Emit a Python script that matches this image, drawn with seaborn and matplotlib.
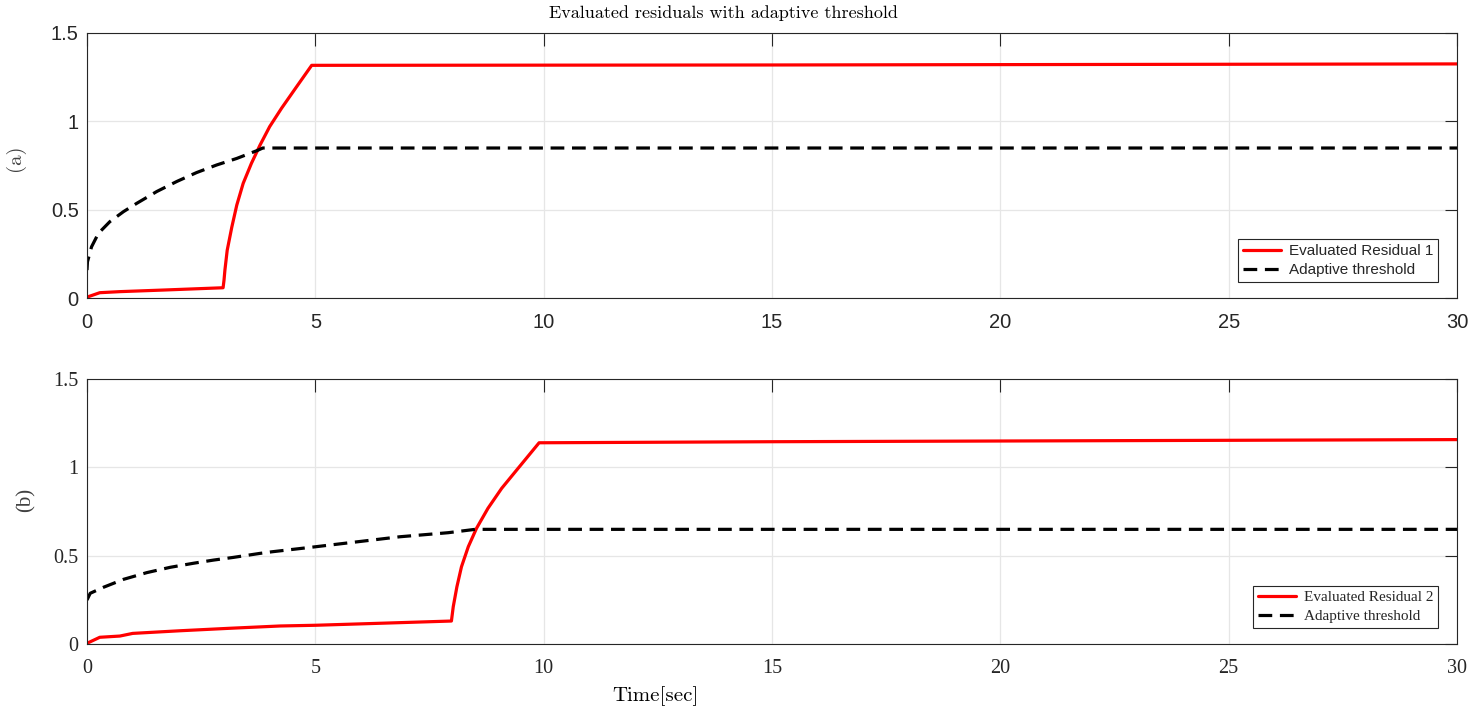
import numpy as np
import pandas as pd
import matplotlib
matplotlib.use("Agg")
import matplotlib.pyplot as plt
import seaborn as sns

# ---------------- data ----------------
t1_res = [0, 0.28, 0.72, 1.67, 2.98, 3.0, 3.02, 3.07, 3.17, 3.28, 3.42, 3.6, 3.79,
          4.0, 4.26, 4.59, 4.92, 10, 15, 20, 25, 30]
res1 = [0.005, 0.03, 0.036, 0.045, 0.058, 0.10, 0.158, 0.27, 0.40, 0.526, 0.649,
        0.762, 0.866, 0.97, 1.074, 1.196, 1.317, 1.318, 1.319, 1.321, 1.323, 1.325]

t1_thr = [0, 0.01, 0.1, 0.25, 0.5, 0.8, 1.09, 1.53, 1.97, 2.4, 2.84, 3.28, 3.72,
          3.85, 30]
thr1 = [0.158, 0.205, 0.29, 0.366, 0.432, 0.489, 0.536, 0.603, 0.66, 0.71, 0.753,
        0.79, 0.834, 0.849, 0.849]

t2_res = [0, 0.28, 0.72, 1.0, 2.04, 3.13, 4.23, 5.0, 6.5, 7.98, 8.02, 8.1, 8.2, 8.35,
          8.53, 8.78, 9.08, 9.41, 9.9, 15, 20, 25, 30]
res2 = [0.004, 0.038, 0.045, 0.06, 0.075, 0.089, 0.102, 0.106, 0.118, 0.13, 0.211,
        0.324, 0.437, 0.551, 0.655, 0.768, 0.881, 0.985, 1.139, 1.145, 1.149, 1.153,
        1.157]

t2_thr = [0, 0.07, 0.36, 0.8, 1.31, 1.82, 2.33, 2.77, 3.2, 3.79, 4.05, 4.99, 6.85,
          7.91, 8.5, 30]
thr2 = [0.249, 0.287, 0.321, 0.366, 0.404, 0.434, 0.457, 0.475, 0.49, 0.513, 0.522,
        0.55, 0.607, 0.63, 0.649, 0.649]

x_ticks = [0, 5, 10, 15, 20, 25, 30]
y_ticks = [0, 0.5, 1, 1.5]
y_tick_labels = ["0", "0.5", "1", "1.5"]

title_text = "Evaluated residuals with adaptive threshold"
xlabel_text = "Time[sec]"
panel_labels = ["(a)", "(b)"]
legend_res = ["Evaluated Residual 1", "Evaluated Residual 2"]
legend_thr = "Adaptive threshold"

# ---------------- style ----------------
sns.set_style("white")
plt.rcParams["axes.unicode_minus"] = False

W, H = 1471, 709
fig = plt.figure(figsize=(W / 100, H / 100), dpi=100)

left = 87 / W
width = (1457 - 87) / W
ax_h = (298 - 33) / H
ax1 = fig.add_axes([left, 1 - 298 / H, width, ax_h])
ax2 = fig.add_axes([left, 1 - 644 / H, width, ax_h])

edge = "#262626"
panels = [
    (ax1, t1_res, res1, t1_thr, thr1, legend_res[0], "Liberation Sans", 14.5, 11),
    (ax2, t2_res, res2, t2_thr, thr2, legend_res[1], "Liberation Serif", 14.5, 11),
]

for ax, tr, rr, tt, th, lab, fam, tfs, lfs in panels:
    df_r = pd.DataFrame({"t": tr, "v": rr})
    df_t = pd.DataFrame({"t": tt, "v": th})
    sns.lineplot(data=df_r, x="t", y="v", ax=ax, color="#ff0000", lw=2.3,
                 label=lab, sort=False, estimator=None)
    sns.lineplot(data=df_t, x="t", y="v", ax=ax, color="black", lw=2.3,
                 label=legend_thr, sort=False, estimator=None)
    ax.lines[-1].set_dashes([4.3, 2.4])
    ax.set_xlim(0, 30)
    ax.set_ylim(0, 1.5)
    ax.set_xticks(x_ticks)
    ax.set_yticks(y_ticks)
    ax.set_xticklabels([str(v) for v in x_ticks])
    ax.set_yticklabels(y_tick_labels)
    ax.set_xlabel("")
    ax.set_ylabel("")
    ax.grid(True, color="#e6e6e6", lw=0.9)
    ax.set_axisbelow(True)
    for s in ax.spines.values():
        s.set_color(edge)
        s.set_linewidth(0.8)
        s.set_visible(True)
    ax.tick_params(axis="both", direction="in", top=True, right=True,
                   length=9, width=0.8, color=edge, labelcolor=edge,
                   labelsize=tfs)
    ax.tick_params(axis="x", pad=11)
    ax.tick_params(axis="y", pad=6)
    for lbl in ax.get_xticklabels() + ax.get_yticklabels():
        lbl.set_family(fam)
    leg = ax.legend(loc="lower right", bbox_to_anchor=(0.986, 0.061),
                    borderaxespad=0, fancybox=False, framealpha=1,
                    edgecolor=edge, handlelength=2.5, handletextpad=0.5,
                    labelspacing=0.35, borderpad=0.3,
                    prop={"family": fam, "size": lfs})
    leg.get_frame().set_linewidth(0.8)
    for txt in leg.get_texts():
        txt.set_color(edge)

fig.text(723.5 / W, 1 - 13 / H, title_text, family="cmr10", fontsize=13,
         ha="center", va="center", color="black")
fig.text(655 / W, 1 - 696 / H, xlabel_text, family="cmr10", fontsize=15,
         ha="center", va="center", color="black")
fig.text(15 / W, 1 - 158 / H, panel_labels[0], family="cmr10", fontsize=15,
         rotation=90, ha="center", va="center", color="#404040")
fig.text(26 / W, 1 - 500 / H, panel_labels[1], family="Liberation Serif",
         fontsize=15, rotation=90, ha="center", va="center", color="#404040")

fig.savefig("out.png", dpi=100)
